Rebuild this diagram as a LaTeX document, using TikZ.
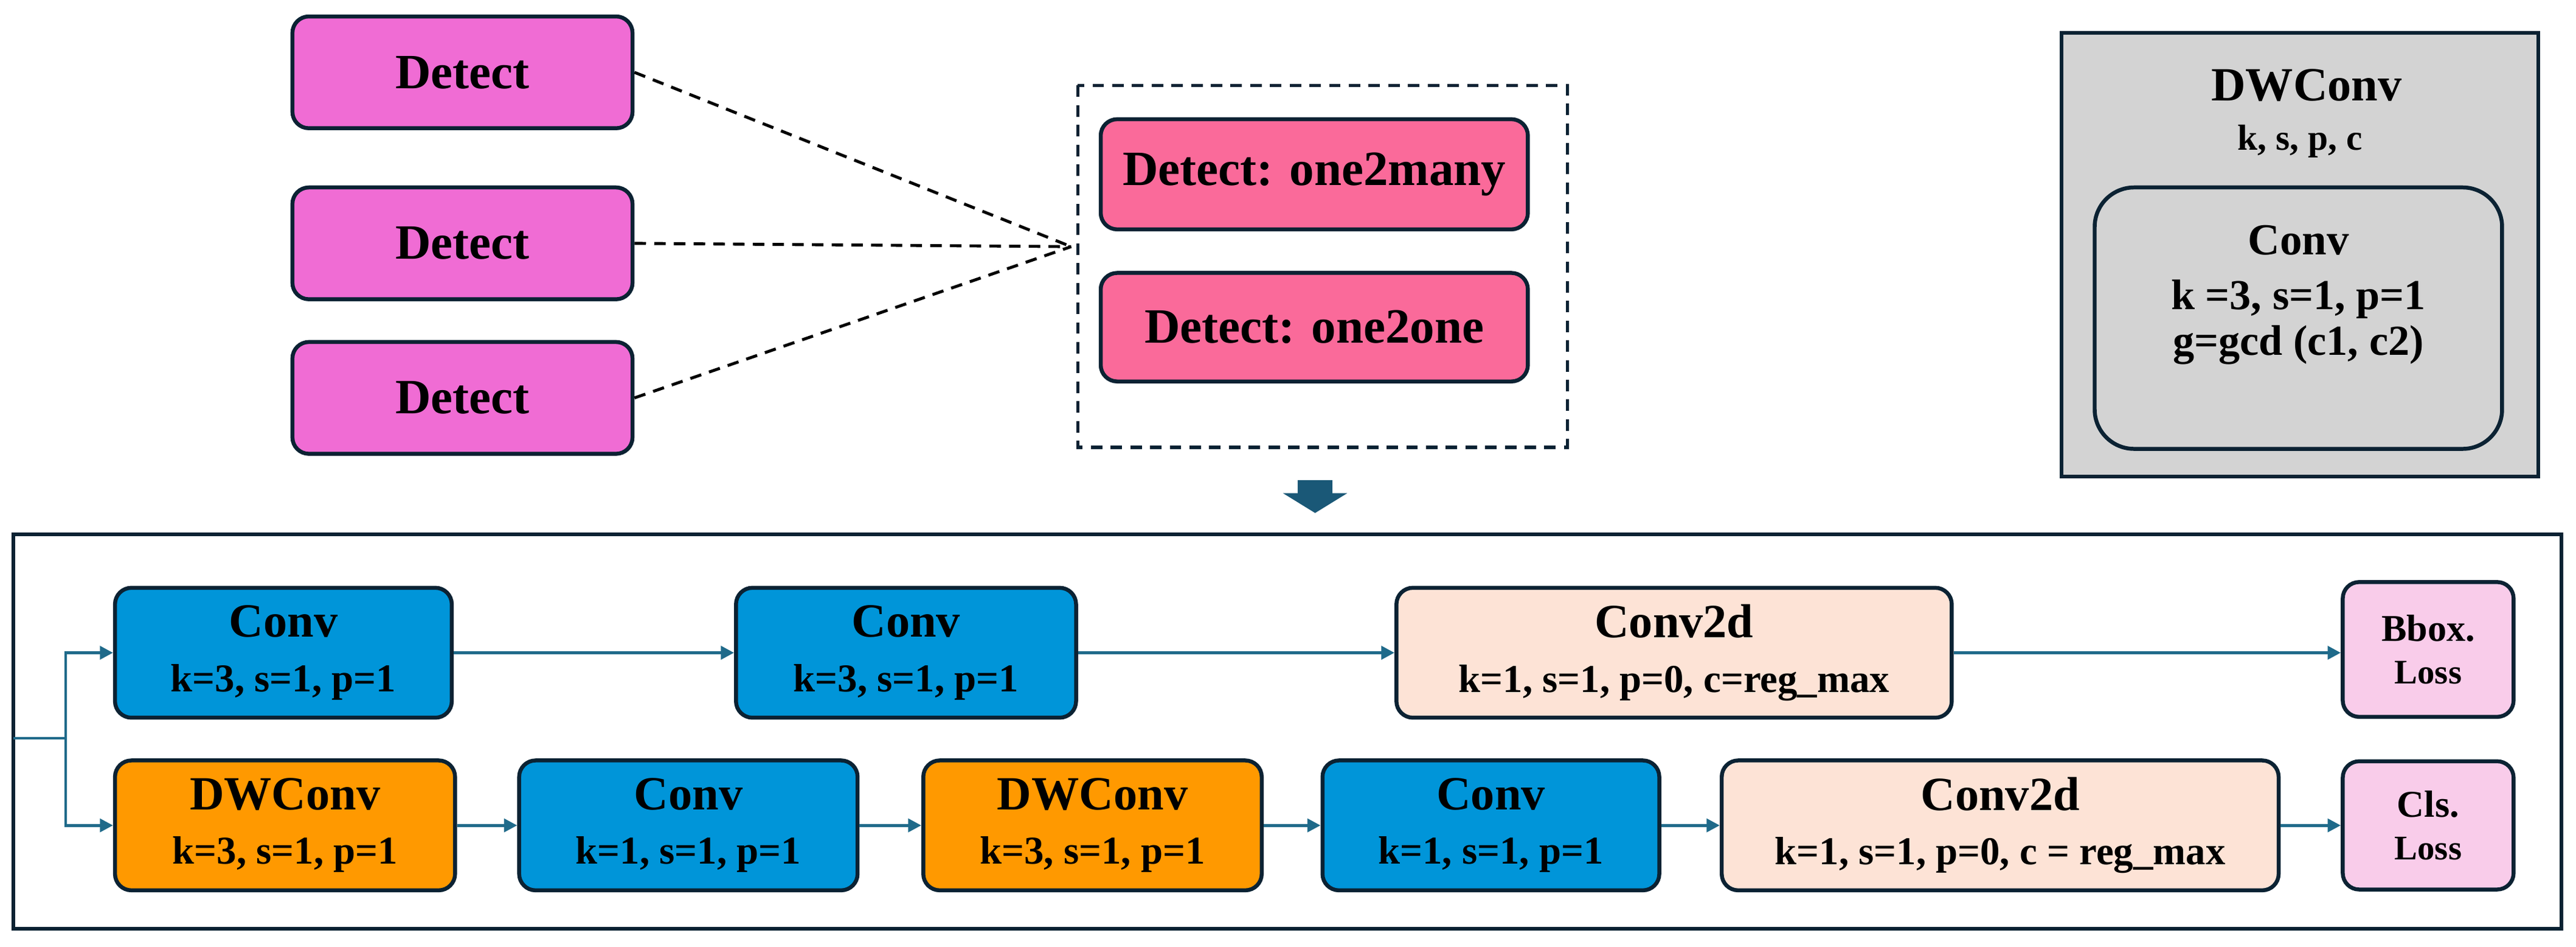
\documentclass[tikz,border=0pt]{standalone}
\usepackage{fontspec}
\setmainfont{Liberation Serif}
\usetikzlibrary{arrows.meta}
\definecolor{ln}{HTML}{0B2233}
\definecolor{ar}{HTML}{1F6A8A}
\definecolor{pk}{HTML}{F06CD4}
\definecolor{rs}{HTML}{FA6A9A}
\definecolor{bl}{HTML}{0095D9}
\definecolor{og}{HTML}{FF9900}
\definecolor{pe}{HTML}{FDE3D6}
\definecolor{lp}{HTML}{F9CCEA}
\definecolor{gr}{HTML}{D3D3D3}
\definecolor{da}{HTML}{1A5877}
\tikzset{
 bx/.style={draw=ln,line width=2.4pt,rounded corners=10pt,font=\bfseries,align=center,inner sep=0pt},
 big/.style={font=\fontsize{30}{32}\selectfont\bfseries},
 cv/.style={bx,minimum height=79pt,font=\fontsize{29}{33}\selectfont\bfseries},
 ca/.style={draw=ar,line width=1.8pt,-{Triangle[length=8pt,width=8pt]}},
}
\newcommand{\sm}{\fontsize{24}{27}\selectfont}
\begin{document}
\begin{tikzpicture}[x=1pt,y=-1pt]
\useasboundingbox (0,0) rectangle (1568,575.6);
% Detect boxes
\foreach \n/\y in {d1/44,d2/148,d3/242}
 \node[bx,fill=pk,minimum width=207pt,minimum height=68pt,big] (\n) at (281.5,\y) {Detect};
\draw[ln,line width=2pt,dash pattern=on 7pt off 5pt] (656,52) rectangle (954,272);
\node[bx,fill=rs,minimum width=260pt,minimum height=67pt,big] (o1) at (800,106) {Detect: one2many};
\node[bx,fill=rs,minimum width=260pt,minimum height=66pt,big] (o2) at (800,199) {Detect: one2one};
\coordinate (m) at (652,150);
\foreach \n in {d1,d2,d3} \draw[black,line width=1.8pt,dash pattern=on 7pt off 5pt] (\n.east) -- (m);
\fill[da] (790,292) -- (811,292) -- (811,300) -- (820,300) -- (800.5,312) -- (781,300) -- (790,300) -- cycle;
% DWConv legend
\node[draw=ln,line width=2.2pt,fill=gr,minimum width=290pt,minimum height=270pt] (lg) at (1400,155) {};
\node[font=\fontsize{29}{31}\selectfont\bfseries] (lt) at (1404,52) {DWConv};
\node[font=\fontsize{22}{24}\selectfont\bfseries] (lk) at (1400,86) {k, s, p, c};
\node[bx,fill=gr,rounded corners=24pt,minimum width=248pt,minimum height=159pt] (li) at (1399,193.5) {};
\node[font=\fontsize{27}{29}\selectfont\bfseries] (lc) at (1399,146) {Conv};
\node[font=\fontsize{26}{28}\selectfont\bfseries,align=center] (lp) at (1399,196) {k =3, s=1, p=1\\[0pt] g=gcd (c1, c2)};
% bottom frame
\draw[ln,line width=2.2pt] (8,325) rectangle (1559,565);
% row 1
\node[cv,fill=bl,minimum width=205pt] (a1) at (172.5,397) {Conv\\ {\sm k=3, s=1, p=1}};
\node[cv,fill=bl,minimum width=207pt] (a2) at (551.5,397) {Conv\\ {\sm k=3, s=1, p=1}};
\node[cv,fill=pe,minimum width=338pt] (a3) at (1019,397) {Conv2d\\ {\sm k=1, s=1, p=0, c=reg\_max}};
\node[bx,fill=lp,minimum width=104pt,minimum height=82pt,font=\fontsize{23}{26}\selectfont\bfseries] (a4) at (1478,395) {Bbox.\\ {\fontsize{21}{24}\selectfont Loss}};
% row 2
\node[cv,fill=og,minimum width=207pt] (b1) at (173.5,502) {DWConv\\ {\sm k=3, s=1, p=1}};
\node[cv,fill=bl,minimum width=206pt] (b2) at (419,502) {Conv\\ {\sm k=1, s=1, p=1}};
\node[cv,fill=og,minimum width=206pt] (b3) at (665,502) {DWConv\\ {\sm k=3, s=1, p=1}};
\node[cv,fill=bl,minimum width=205pt] (b4) at (907.5,502) {Conv\\ {\sm k=1, s=1, p=1}};
\node[cv,fill=pe,minimum width=339pt] (b5) at (1217.5,502) {Conv2d\\ {\sm k=1, s=1, p=0, c = reg\_max}};
\node[bx,fill=lp,minimum width=104pt,minimum height=78pt,font=\fontsize{23}{26}\selectfont\bfseries] (b6) at (1478,502) {Cls.\\ {\fontsize{21}{24}\selectfont Loss}};
% connectors
\coordinate (in) at (8,449);
\coordinate (sp) at (40,449);
\draw[ar,line width=1.8pt] (in) -- (sp);
\draw[ca] (sp) |- (a1.west);
\draw[ca] (sp) |- (b1.west);
\draw[ca] (a1) -- (a2);
\draw[ca] (a2) -- (a3);
\draw[ca] (a3) -- (a3.east -| a4.west);
\draw[ca] (b1) -- (b2);
\draw[ca] (b2) -- (b3);
\draw[ca] (b3) -- (b4);
\draw[ca] (b4) -- (b5);
\draw[ca] (b5) -- (b6);
\end{tikzpicture}
\end{document}
